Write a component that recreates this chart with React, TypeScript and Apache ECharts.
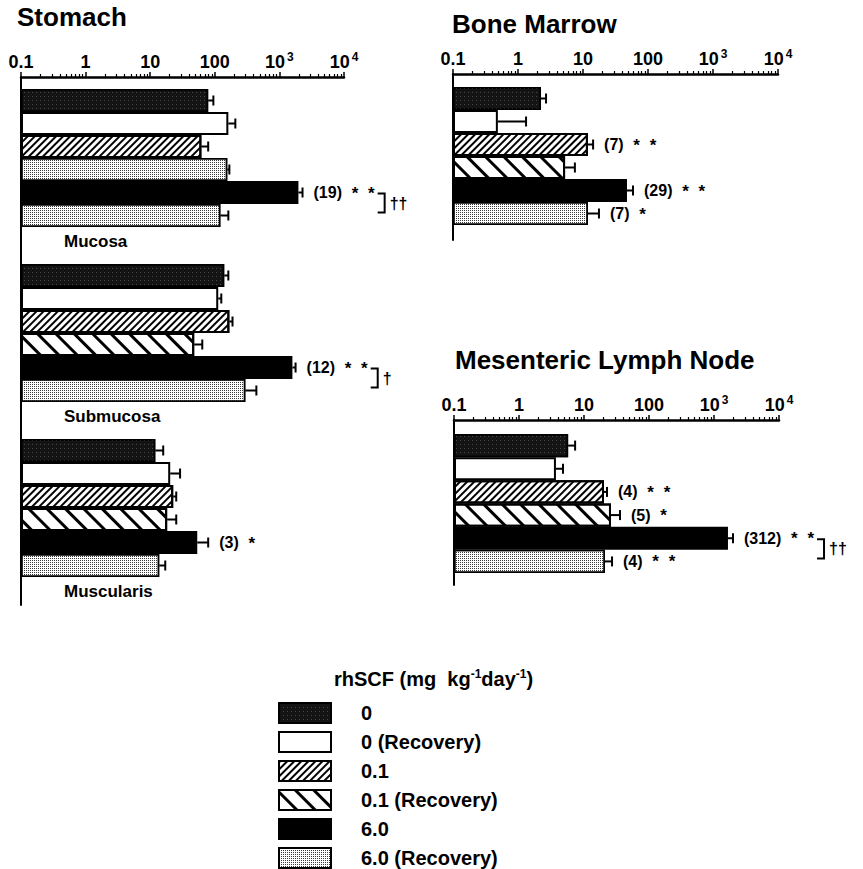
import React, { useEffect, useRef } from "react";
import * as echarts from "echarts";

// ---------- data ----------
const doses = ["0", "0 (Recovery)", "0.1", "0.1 (Recovery)", "6.0", "6.0 (Recovery)"];
const tickLabels = ["0.1", "1", "10", "100", "10³", "10⁴"];
const stomachLayers = ["Mucosa", "Submucosa", "Muscularis"];

// rows = dose, columns = [Mucosa, Submucosa, Muscularis]
const stomachValues = [
  [79, 140, 12.0],
  [162, 113, 20.4],
  [62, 168, 22.7],
  [156, 48, 18.3],
  [1970, 1590, 53.5],
  [122, 297, 13.8],
];
const stomachErrHigh = [
  [95, 162, 15.9],
  [208, 126, 29],
  [79, 188, 25.3],
  [168, 64, 25.3],
  [2280, 1780, 79],
  [162, 440, 17.1],
];
const stomachNotes = [
  ["", "", ""],
  ["", "", ""],
  ["", "", ""],
  ["", "", ""],
  ["(19) * *", "(12) * *", "(3) *"],
  ["", "", ""],
];
const stomachDaggers = [
  ["", "", ""],
  ["", "", ""],
  ["", "", ""],
  ["", "", ""],
  ["††", "†", ""],
  ["", "", ""],
];

const marrowValues = [2.26, 0.49, 11.9, 5.3, 47.5, 11.9];
const marrowErrHigh = [2.7, 1.33, 14.3, 7.5, 58.8, 17.6];
const marrowNotes = ["", "", "(7) * *", "", "(29) * *", "(7) *"];
const marrowDaggers = ["", "", "", "", "", ""];

const lymphValues = [5.7, 3.7, 20.3, 26, 1640, 21];
const lymphErrHigh = [7.3, 4.75, 22.6, 35.8, 1960, 27];
const lymphNotes = ["", "", "(4) * *", "(5) *", "(312) * *", "(4) * *"];
const lymphDaggers = ["", "", "", "", "††", ""];

const panelTitles = ["Stomach", "Bone Marrow", "Mesenteric Lymph Node"];

// ---------- styling ----------
const FF = '"Liberation Sans", Arial, Helvetica, sans-serif';

const stipple = {
  color: "#fff",
  borderColor: "#000",
  borderWidth: 1.5,
  decal: { symbol: "rect", symbolSize: 1, color: "#3a3a3a", dashArrayX: [1, 1], dashArrayY: [1, 1], rotation: 0 },
};
const barStyles: any[] = [
  {
    color: "#141414",
    borderColor: "#000",
    borderWidth: 1.5,
    decal: { symbol: "rect", symbolSize: 1, color: "rgba(255,255,255,0.22)", dashArrayX: [1, 3], dashArrayY: [1, 3], rotation: 0 },
  },
  { color: "#fff", borderColor: "#000", borderWidth: 2 },
  {
    color: "#fff",
    borderColor: "#000",
    borderWidth: 2,
    decal: { symbol: "rect", symbolSize: 1, color: "#000", dashArrayX: [1, 0], dashArrayY: [1.6, 2.6], rotation: -Math.PI / 4 },
  },
  {
    color: "#fff",
    borderColor: "#000",
    borderWidth: 2,
    decal: { symbol: "rect", symbolSize: 1, color: "#000", dashArrayX: [1, 0], dashArrayY: [3, 10], rotation: Math.PI / 4 },
  },
  { color: "#000", borderColor: "#000", borderWidth: 1.5 },
  stipple,
];

const t = (v: number) => Math.log10(v) + 1; // 0.1 -> 0

const supMap: Record<string, string> = { "⁰": "0", "¹": "1", "²": "2", "³": "3", "⁴": "4", "⁵": "5", "⁶": "6", "⁷": "7", "⁸": "8", "⁹": "9" };

function tickFormatter(val: number) {
  const lab = tickLabels[Math.round(val)] ?? "";
  const base = lab.replace(/[⁰¹²³⁴⁵⁶⁷⁸⁹]/g, "");
  const sup = lab
    .split("")
    .filter((ch) => supMap[ch])
    .map((ch) => supMap[ch])
    .join("");
  return sup ? `{b|${base}}{s|${sup}}` : `{b|${base}}`;
}

const minorTickValues: number[] = [];
for (let d = 0; d < tickLabels.length - 1; d++) {
  for (let m = 2; m <= 9; m++) minorTickValues.push(d + Math.log10(m));
}

export default function App() {
  const ref = useRef<HTMLDivElement>(null);

  useEffect(() => {
    if (!ref.current) return;
    const chart = echarts.init(ref.current, undefined, { renderer: "svg" });

    const canvas = document.createElement("canvas");
    const ctx = canvas.getContext("2d")!;
    const STAR_PAD = 5;
    const measure = (paren: string, stars: string) => {
      ctx.font = `bold 16px ${FF}`;
      const wp = ctx.measureText(paren).width;
      ctx.font = `bold 17px ${FF}`;
      const starTokens = stars.trim() ? stars.trim().split(/\s+/) : [];
      let ws = 0;
      starTokens.forEach((s) => {
        ws += ctx.measureText(" " + s).width + STAR_PAD;
      });
      return wp + ws;
    };

    const frameGrids = [
      { left: 21, top: 77, width: 323, height: 528 },
      { left: 453, top: 74, width: 325, height: 166 },
      { left: 454, top: 420, width: 325, height: 165 },
    ];
    const barGrids = [
      { left: 21, top: 70.5, width: 323, height: 525 },
      { left: 453, top: 87, width: 325, height: 138 },
      { left: 454, top: 434, width: 325, height: 139 },
    ];
    const gapFracs = [1 - 138 / 175, 0, 0];

    const panels = [
      {
        categories: stomachLayers,
        values: stomachValues,
        err: stomachErrHigh,
        notes: stomachNotes,
        daggers: stomachDaggers,
        groupLabels: stomachLayers,
      },
      {
        categories: [panelTitles[1]],
        values: marrowValues.map((v) => [v]),
        err: marrowErrHigh.map((v) => [v]),
        notes: marrowNotes.map((v) => [v]),
        daggers: marrowDaggers.map((v) => [v]),
        groupLabels: null as string[] | null,
      },
      {
        categories: [panelTitles[2]],
        values: lymphValues.map((v) => [v]),
        err: lymphErrHigh.map((v) => [v]),
        notes: lymphNotes.map((v) => [v]),
        daggers: lymphDaggers.map((v) => [v]),
        groupLabels: null as string[] | null,
      },
    ];

    const grid: any[] = [...frameGrids, ...barGrids];
    const xAxis: any[] = [];
    const yAxis: any[] = [];

    frameGrids.forEach((_, i) => {
      xAxis.push({
        type: "value",
        gridIndex: i,
        position: "top",
        min: 0,
        max: tickLabels.length - 1,
        interval: 1,
        axisLine: { show: true, onZero: false, lineStyle: { color: "#000", width: 2.5 } },
        axisTick: { show: true, length: 5, lineStyle: { color: "#000", width: 1.5 } },
        splitLine: { show: false },
        axisLabel: {
          show: true,
          margin: 4,
          formatter: tickFormatter,
          rich: {
            b: { fontSize: 18, fontWeight: "bold", color: "#000", fontFamily: FF, lineHeight: 22 },
            s: { fontSize: 12, fontWeight: "bold", color: "#000", fontFamily: FF, lineHeight: 6, verticalAlign: "top", padding: [0, 0, 0, 2] },
          },
        },
      });
      xAxis.push({
        type: "value",
        gridIndex: i,
        position: "top",
        min: 0,
        max: tickLabels.length - 1,
        axisLine: { show: false, onZero: false },
        axisTick: { show: true, length: 3, customValues: minorTickValues, lineStyle: { color: "#000", width: 1.2 } },
        axisLabel: { show: false },
        splitLine: { show: false },
      });
      yAxis.push({
        type: "value",
        gridIndex: i,
        min: 0,
        max: 1,
        axisLine: { show: true, onZero: false, lineStyle: { color: "#000", width: 2 } },
        axisTick: { show: false },
        axisLabel: { show: false },
        splitLine: { show: false },
      });
    });

    panels.forEach((p, i) => {
      xAxis.push({ type: "value", gridIndex: 3 + i, min: 0, max: tickLabels.length - 1, show: false });
      yAxis.push({ type: "category", gridIndex: 3 + i, data: p.categories, inverse: true, show: false });
    });

    const series: any[] = [];
    panels.forEach((p, i) => {
      const axisIdx = 6 + i;
      const yIdx = 3 + i;
      const gap = `${(gapFracs[i] * 100).toFixed(3)}%`;
      doses.forEach((dose, k) => {
        series.push({
          type: "bar",
          name: dose,
          xAxisIndex: axisIdx,
          yAxisIndex: yIdx,
          barGap: "0%",
          barCategoryGap: gap,
          itemStyle: barStyles[k],
          silent: true,
          data: p.values[k].map((v, c) => {
            // In the Mucosa group the 0.1 (Recovery) bar is printed stippled
            if (i === 0 && k === 3 && c === 0) return { value: t(v), itemStyle: stipple };
            return t(v);
          }),
        });
      });

      const errData: number[][] = [];
      p.categories.forEach((_, c) => {
        doses.forEach((__, k) => {
          errData.push([t(p.err[k][c]), c, k, t(p.values[k][c])]);
        });
      });
      const gapFrac = gapFracs[i];
      series.push({
        type: "custom",
        xAxisIndex: axisIdx,
        yAxisIndex: yIdx,
        clip: false,
        silent: true,
        encode: { x: 0, y: 1 },
        data: errData,
        renderItem: (params: any, api: any) => {
          const err = api.value(0);
          const c = api.value(1);
          const k = api.value(2);
          const val = api.value(3);
          const base = api.coord([0, c]);
          const band = api.size([0, 1])[1];
          const barsH = band * (1 - gapFrac);
          const bh = barsH / doses.length;
          const y = base[1] - barsH / 2 + (k + 0.5) * bh;
          const xBar = api.coord([val, c])[0];
          const xErr = api.coord([err, c])[0];
          const ls = { stroke: "#000", lineWidth: 2 };
          const children: any[] = [
            { type: "line", shape: { x1: xBar, y1: y, x2: xErr, y2: y }, style: ls },
            { type: "line", shape: { x1: xErr, y1: y - 5, x2: xErr, y2: y + 5 }, style: ls },
          ];
          const note = p.notes[k][c];
          if (note) {
            const m = note.match(/^(\([^)]*\))(.*)$/);
            const paren = m ? m[1] : note;
            const stars = m ? m[2] : "";
            const starTokens = stars.trim() ? stars.trim().split(/\s+/) : [];
            const tx = xErr + 11;
            const richText = `{p|${paren}}` + starTokens.map((s) => `{s| ${s}}`).join("");
            children.push({
              type: "text",
              x: tx,
              y: y,
              style: {
                text: richText,
                verticalAlign: "middle",
                align: "left",
                rich: {
                  p: { fontSize: 16, fontWeight: "bold", fontFamily: FF, fill: "#000", lineHeight: 18 },
                  s: {
                    fontSize: 17,
                    fontWeight: "bold",
                    fontFamily: FF,
                    fill: "#000",
                    lineHeight: 10,
                    verticalAlign: "bottom",
                    padding: [0, 0, 0, STAR_PAD],
                  },
                },
              },
            });
            const dag = p.daggers[k][c];
            if (dag) {
              const w = measure(paren, stars);
              const bx = tx + w + 3;
              const yTop = y + 1;
              const yBot = y + bh - 3;
              children.push({
                type: "polyline",
                shape: { points: [[bx, yTop], [bx + 7, yTop], [bx + 7, yBot], [bx, yBot]] },
                style: { stroke: "#000", lineWidth: 2, fill: null },
              });
              children.push({
                type: "text",
                x: bx + 12,
                y: (yTop + yBot) / 2,
                style: { text: dag, fontSize: 16, fontWeight: "bold", fontFamily: FF, fill: "#000", verticalAlign: "middle" },
              });
            }
          }
          if (p.groupLabels && k === doses.length - 1) {
            children.push({
              type: "text",
              x: base[0] + 43,
              y: y + bh / 2 + 14,
              style: {
                text: p.groupLabels[c],
                fontSize: 17,
                fontWeight: "bold",
                fontFamily: FF,
                fill: "#000",
                verticalAlign: "middle",
              },
            });
          }
          return { type: "group", children };
        },
      });
    });

    const option: any = {
      animation: false,
      backgroundColor: "#fff",
      textStyle: { fontFamily: FF },
      grid,
      xAxis,
      yAxis,
      series,
      legend: {
        orient: "vertical",
        left: 278,
        top: 702,
        height: 180,
        padding: 0,
        itemWidth: 52,
        itemHeight: 20,
        itemGap: 7,
        icon: "rect",
        selectedMode: false,
        data: doses,
        textStyle: { fontSize: 20, fontWeight: "bold", color: "#000", fontFamily: FF, lineHeight: 20, padding: [0, 0, 0, 25] },
      },
      graphic: [
        {
          type: "text",
          x: 17,
          y: 17,
          style: { text: panelTitles[0], fontSize: 26, fontWeight: "bold", fontFamily: FF, fill: "#000", verticalAlign: "middle" },
        },
        {
          type: "text",
          x: 452,
          y: 24,
          style: { text: panelTitles[1], fontSize: 26, fontWeight: "bold", fontFamily: FF, fill: "#000", verticalAlign: "middle" },
        },
        {
          type: "text",
          x: 455,
          y: 360,
          style: { text: panelTitles[2], fontSize: 26, fontWeight: "bold", fontFamily: FF, fill: "#000", verticalAlign: "middle" },
        },
        {
          type: "text",
          x: 334,
          y: 679,
          style: {
            text: "{a|rhSCF (mg  kg}{s|-1}{a|day}{s|-1}{a|)}",
            verticalAlign: "middle",
            rich: {
              a: { fontSize: 20, fontWeight: "bold", fontFamily: FF, fill: "#000", lineHeight: 22 },
              s: { fontSize: 12, fontWeight: "bold", fontFamily: FF, fill: "#000", lineHeight: 6, verticalAlign: "top" },
            },
          },
        },
      ],
    };

    chart.setOption(option);
    return () => chart.dispose();
  }, []);

  return <div ref={ref} style={{ position: "absolute", left: 0, top: 0, width: 863, height: 869, background: "#fff" }} />;
}
